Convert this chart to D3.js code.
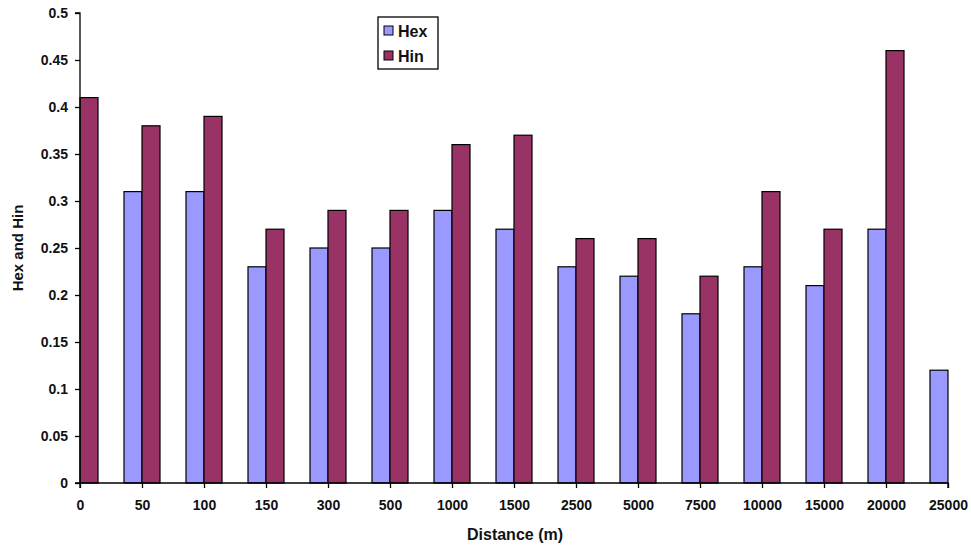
<!DOCTYPE html>
<html>
<head>
<meta charset="utf-8">
<script src="https://cdn.jsdelivr.net/npm/d3@7"></script>
<style>
  html, body { margin: 0; padding: 0; background: #fff; }
  text { font-family: Arial, "Liberation Sans", sans-serif; font-weight: bold; fill: #111; }
</style>
</head>
<body>
<svg id="chart" width="971" height="546"></svg>
<script>
const categories = ["0", "50", "100", "150", "300", "500", "1000", "1500", "2500", "5000", "7500", "10000", "15000", "20000", "25000"];
const hexValues = [null, 0.31, 0.31, 0.23, 0.25, 0.25, 0.29, 0.27, 0.23, 0.22, 0.18, 0.23, 0.21, 0.27, 0.12];
const hinValues = [0.41, 0.38, 0.39, 0.27, 0.29, 0.29, 0.36, 0.37, 0.26, 0.26, 0.22, 0.31, 0.27, 0.46, null];
const seriesNames = ["Hex", "Hin"];
const seriesColors = ["#9999ff", "#993366"];
const yTicks = [0, 0.05, 0.1, 0.15, 0.2, 0.25, 0.3, 0.35, 0.4, 0.45, 0.5];

const svg = d3.select("#chart");
const mLeft = 80, mRight = 948, mTop = 13, mBottom = 483;
const barW = 18;

const x = d3.scalePoint().domain(categories).range([mLeft, mRight]).padding(0);
const y = d3.scaleLinear().domain([0, 0.5]).range([mBottom, mTop]);

const series = [hexValues, hinValues];
series.forEach((vals, si) => {
  svg.append("g").selectAll("rect")
    .data(categories.map((c, i) => ({c, v: vals[i]})).filter(d => d.v != null))
    .enter().append("rect")
    .attr("x", d => si === 0 ? x(d.c) - barW : x(d.c))
    .attr("y", d => y(d.v))
    .attr("width", barW)
    .attr("height", d => y(0) - y(d.v))
    .attr("fill", seriesColors[si])
    .attr("stroke", "#000")
    .attr("stroke-width", 1.2);
});

// Y axis
const yAxis = svg.append("g").attr("transform", `translate(${mLeft},0)`)
  .call(d3.axisLeft(y).tickValues(yTicks).tickSize(5).tickPadding(7).tickFormat(d => String(d)));
yAxis.select(".domain").attr("stroke", "#000").attr("stroke-width", 1.3).attr("d", `M-5,${mTop}H0V${mBottom}H-5`);
yAxis.selectAll(".tick line").attr("stroke", "#000").attr("stroke-width", 1.3);
yAxis.selectAll("text").style("font-size", "14px").attr("fill", "#111");

// X axis
const xAxis = svg.append("g").attr("transform", `translate(0,${mBottom})`)
  .call(d3.axisBottom(x).tickSize(5).tickPadding(12));
xAxis.select(".domain").attr("stroke", "#000").attr("stroke-width", 1.3).attr("d", `M${mLeft},5V0H${mRight}V5`);
xAxis.selectAll(".tick line").attr("stroke", "#000").attr("stroke-width", 1.3);
xAxis.selectAll("text").style("font-size", "14px").attr("fill", "#111");

// Axis titles
svg.append("text").attr("x", 515).attr("y", 540)
  .attr("text-anchor", "middle").style("font-size", "16px").text("Distance (m)");
svg.append("text").attr("transform", "translate(23,248) rotate(-90)")
  .attr("text-anchor", "middle").style("font-size", "15px").text("Hex and Hin");

// Legend
const lg = svg.append("g").attr("transform", "translate(378,17)");
lg.append("rect").attr("width", 60).attr("height", 52).attr("fill", "#fff").attr("stroke", "#000").attr("stroke-width", 1.3);
seriesNames.forEach((n, i) => {
  const gy = 14 + i * 25;
  lg.append("rect").attr("x", 6).attr("y", gy - 5).attr("width", 9).attr("height", 9)
    .attr("fill", seriesColors[i]).attr("stroke", "#000").attr("stroke-width", 1);
  lg.append("text").attr("x", 20).attr("y", gy).attr("dy", "0.35em").style("font-size", "16px").text(n);
});
</script>
</body>
</html>
